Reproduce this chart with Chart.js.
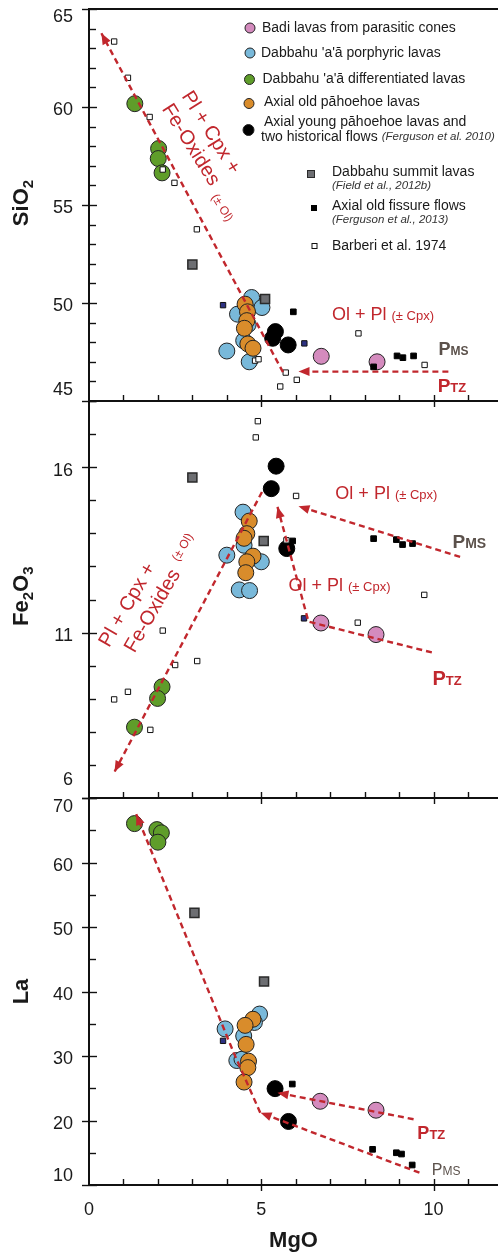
<!DOCTYPE html>
<html>
<head>
<meta charset="utf-8">
<script src="https://cdn.jsdelivr.net/npm/chart.js@4.4.1/dist/chart.umd.min.js"></script>
<style>
  html, body { margin: 0; padding: 0; background: #fff; }
  #box { width: 498px; height: 1252px; position: relative; }
</style>
</head>
<body>
<div id="box"><canvas id="geo" width="498" height="1252"></canvas></div>
<script>
Chart.defaults.font.family = '"Liberation Sans", Arial, Helvetica, sans-serif';

const RED = '#c1272d';
const PMS = '#5b514b';
const INK = '#1a1a1a';

// tick labels
const mgoTicks = [0, 5, 10];
const sio2Ticks = [45, 50, 55, 60, 65];
const fe2o3Ticks = [6, 11, 16];
const laTicks = [10, 20, 30, 40, 50, 60, 70];

// [MgO, value]
const badiSiO2 = [[6.74, 47.28], [8.36, 47.0]];
const badiFe2O3 = [[6.73, 11.29], [8.33, 10.94]];
const badiLa = [[6.71, 22.98], [8.33, 21.6]];

const porphSiO2 = [[4.72, 50.28], [5.02, 49.77], [4.31, 49.43], [4.62, 48.9], [4.49, 48.08], [4.0, 47.55], [4.65, 47.0]];
const porphFe2O3 = [[4.47, 14.64], [4.5, 13.64], [4.0, 13.34], [5.0, 13.14], [4.36, 12.29], [4.66, 12.27]];
const porphLa = [[3.95, 34.2], [4.95, 36.5], [4.8, 35.2], [4.49, 33.1], [4.29, 29.3], [4.44, 29.5]];

const diffSiO2 = [[1.33, 60.17], [2.02, 57.88], [2.01, 57.37], [2.12, 56.64]];
const diffFe2O3 = [[2.12, 9.36], [1.99, 9.01], [1.32, 8.14]];
const diffLa = [[1.32, 66.03], [1.97, 65.1], [2.1, 64.6], [2.0, 63.15]];

const oldPahSiO2 = [[4.53, 49.94], [4.6, 49.55], [4.58, 49.1], [4.51, 48.71], [4.61, 47.91], [4.76, 47.69]];
const oldPahFe2O3 = [[4.65, 14.37], [4.58, 13.99], [4.5, 13.85], [4.76, 13.31], [4.58, 13.14], [4.55, 12.81]];
const oldPahLa = [[4.76, 35.7], [4.53, 34.75], [4.56, 31.8], [4.63, 29.2], [4.61, 28.2], [4.5, 25.96]];

const youngSiO2 = [[5.41, 48.54], [5.33, 48.2], [5.78, 47.86]];
const youngFe2O3 = [[5.43, 16.03], [5.29, 15.35], [5.74, 13.54]];
const youngLa = [[5.4, 24.94], [5.79, 19.85]];

const summitSiO2 = [[3.0, 51.96], [5.11, 50.2]];
const summitFe2O3 = [[3.0, 15.69], [5.07, 13.77]];
const summitLa = [[3.06, 52.19], [5.08, 41.55]];

const fissureSiO2 = [[5.93, 49.55], [8.94, 47.3], [9.11, 47.21], [9.42, 47.3], [8.26, 46.74]];
const fissureFe2O3 = [[5.91, 13.77], [8.26, 13.84], [8.92, 13.81], [9.1, 13.66], [9.39, 13.69]];
const fissureLa = [[5.9, 25.65], [8.23, 15.53], [8.92, 15.0], [9.07, 14.8], [9.38, 13.1]];

const barberiSiO2 = [[0.73, 63.34], [1.13, 61.49], [1.76, 59.49], [2.14, 56.81], [2.48, 56.13], [3.13, 53.76],
  [4.82, 47.06], [4.92, 47.13], [5.71, 46.45], [6.03, 46.08], [5.55, 45.74], [7.82, 48.45], [9.74, 46.84]];
const barberiFe2O3 = [[4.9, 17.39], [4.84, 16.9], [6.01, 15.13], [9.73, 12.14], [2.14, 11.06], [2.5, 10.02],
  [3.14, 10.14], [1.13, 9.21], [0.73, 8.98], [1.78, 8.06], [7.8, 11.3], [5.73, 13.79]];

const otherSiO2 = [[3.89, 49.89], [6.25, 47.94]];
const otherFe2O3 = [[6.24, 11.43]];
const otherLa = [[3.89, 32.35]];

// fractionation trends (last point gets the arrow head)
const siTrendFract = [[5.63, 46.47], [0.36, 63.76]];
const siTrendOlPl = [[10.43, 46.5], [6.08, 46.5]];
const feTrendFract = [[5.02, 15.25], [0.74, 6.79]];
const feTrendMS = [[10.77, 13.29], [6.08, 14.82]];
const feTrendTZ = [[9.95, 10.4], [6.37, 11.33], [5.47, 14.8]];
const laTrendFract = [[4.97, 21.2], [4.2, 30.5], [1.37, 67.5]];
const laTrendMS = [[9.59, 11.9], [4.98, 21.2]];
const laTrendTZ = [[9.42, 20.2], [5.47, 24.3]];

const panels = [
  { id: 'ySi', key: 'si', min: 45, max: 65, ticks: sio2Ticks, minor: 1, h: 392, w: 3, shiftTop: 8, shiftBottom: -11, titleAt: 55.1,
    title: [{ t: 'SiO', size: 22, bold: true }, { t: '2', size: 15, bold: true, dy: 5 }] },
  { id: 'yFe', key: 'fe', min: 6, max: 18, ticks: fe2o3Ticks, minor: 1, h: 397, w: 2, shiftTop: 0, shiftBottom: -18, titleAt: 12.1,
    title: [{ t: 'Fe', size: 22, bold: true }, { t: '2', size: 15, bold: true, dy: 5 }, { t: 'O', size: 22, bold: true }, { t: '3', size: 15, bold: true, dy: 5 }] },
  { id: 'yLa', key: 'la', min: 10, max: 70, ticks: laTicks, minor: 5, h: 387, w: 1, shiftTop: 9, shiftBottom: -9, titleAt: 40,
    title: [{ t: 'La', size: 22, bold: true }] }
];

const groups = [
  { pts: { si: badiSiO2, fe: badiFe2O3, la: badiLa }, style: 'circle', r: 8, fill: '#d48bbe', line: '#222', bw: 1, order: 9 },
  { pts: { si: porphSiO2, fe: porphFe2O3, la: porphLa }, style: 'circle', r: 8, fill: '#79b9da', line: '#222', bw: 1, order: 8 },
  { pts: { si: diffSiO2, fe: diffFe2O3, la: diffLa }, style: 'circle', r: 8, fill: '#5f9d2a', line: '#222', bw: 1, order: 7 },
  { pts: { si: oldPahSiO2, fe: oldPahFe2O3, la: oldPahLa }, style: 'circle', r: 8, fill: '#d98c2b', line: '#222', bw: 1, order: 6 },
  { pts: { si: youngSiO2, fe: youngFe2O3, la: youngLa }, style: 'circle', r: 8, fill: '#000', line: '#000', bw: 1, order: 5 },
  { pts: { si: summitSiO2, fe: summitFe2O3, la: summitLa }, style: 'rect', r: 6.4, fill: '#6d6e72', line: '#2a2a2a', bw: 1.5, order: 4 },
  { pts: { si: fissureSiO2, fe: fissureFe2O3, la: fissureLa }, style: 'rect', r: 4, fill: '#000', line: '#000', bw: 1, order: 3 },
  { pts: { si: otherSiO2, fe: otherFe2O3, la: otherLa }, style: 'rect', r: 3.8, fill: '#2d3182', line: '#111', bw: 1, order: 2 },
  { pts: { si: barberiSiO2, fe: barberiFe2O3 }, style: 'rect', r: 3.8, fill: '#fff', line: '#111', bw: 1, order: 1 }
];

const trends = [
  { axis: 'ySi', pts: siTrendFract }, { axis: 'ySi', pts: siTrendOlPl },
  { axis: 'yFe', pts: feTrendFract }, { axis: 'yFe', pts: feTrendMS }, { axis: 'yFe', pts: feTrendTZ },
  { axis: 'yLa', pts: laTrendFract }, { axis: 'yLa', pts: laTrendMS }, { axis: 'yLa', pts: laTrendTZ }
];

const olPl = [{ t: 'Ol + Pl ', size: 18 }, { t: '(± Cpx)', size: 13 }];
const notes = [
  { axis: 'ySi', x: 3.57, y: 58.74, rot: 58, align: 'center', parts: [{ t: 'Pl + Cpx +', size: 20 }] },
  { axis: 'ySi', x: 2.99, y: 58.11, rot: 58, align: 'center', parts: [{ t: 'Fe-Oxides', size: 20 }] },
  { axis: 'ySi', x: 3.88, y: 54.88, rot: 58, align: 'center', parts: [{ t: '(± Ol)', size: 12 }] },
  { axis: 'ySi', x: 7.05, y: 49.47, parts: olPl },
  { axis: 'ySi', x: 10.14, y: 47.7, color: PMS, parts: [{ t: 'P', size: 18, bold: true }, { t: 'MS', size: 12, bold: true }] },
  { axis: 'ySi', x: 10.12, y: 45.82, parts: [{ t: 'P', size: 19, bold: true }, { t: 'TZ', size: 13, bold: true }] },
  { axis: 'yFe', x: 1.08, y: 11.86, rot: -60, align: 'center', parts: [{ t: 'Pl + Cpx +', size: 20 }] },
  { axis: 'yFe', x: 1.81, y: 11.68, rot: -60, align: 'center', parts: [{ t: 'Fe-Oxides', size: 20 }] },
  { axis: 'yFe', x: 2.7, y: 13.59, rot: -60, align: 'center', parts: [{ t: '(± Ol)', size: 12 }] },
  { axis: 'yFe', x: 7.15, y: 15.23, parts: olPl },
  { axis: 'yFe', x: 5.79, y: 12.44, parts: olPl },
  { axis: 'yFe', x: 10.55, y: 13.75, color: PMS, parts: [{ t: 'P', size: 19, bold: true }, { t: 'MS', size: 14, bold: true }] },
  { axis: 'yFe', x: 9.97, y: 9.63, parts: [{ t: 'P', size: 20, bold: true }, { t: 'TZ', size: 13, bold: true }] },
  { axis: 'yLa', x: 9.53, y: 18.15, parts: [{ t: 'P', size: 18, bold: true }, { t: 'TZ', size: 13, bold: true }] },
  { axis: 'yLa', x: 9.95, y: 12.48, color: PMS, parts: [{ t: 'P', size: 16 }, { t: 'MS', size: 12 }] }
];

// legend rows; a text x of null continues right after the previous text
const legendRows = [
  { mark: 'circle', fill: '#d48bbe', mx: 250, my: 28, r: 5, text: [[262, 28, 'Badi lavas from parasitic cones']] },
  { mark: 'circle', fill: '#79b9da', mx: 250, my: 53, r: 5, text: [[261, 53, "Dabbahu 'a'ā porphyric lavas"]] },
  { mark: 'circle', fill: '#5f9d2a', mx: 249.5, my: 79.5, r: 5, text: [[262.5, 79, "Dabbahu 'a'ā differentiated lavas"]] },
  { mark: 'circle', fill: '#d98c2b', mx: 249, my: 103.5, r: 5, text: [[264, 102, 'Axial old pāhoehoe lavas']] },
  { mark: 'circle', fill: '#000', mx: 248.5, my: 130, r: 5.5, text: [[264, 122.5, 'Axial young pāhoehoe lavas and'], [261, 137, 'two historical flows'], [null, 137, '(Ferguson et al. 2010)', true]] },
  { mark: 'rect', fill: '#6d6e72', line: '#2a2a2a', mx: 311, my: 174, r: 4, text: [[332, 172, 'Dabbahu summit lavas'], [332, 185.5, '(Field et al., 2012b)', true]] },
  { mark: 'rect', fill: '#000', line: '#000', mx: 314, my: 208, r: 3, text: [[332, 206, 'Axial old fissure flows'], [332, 220, '(Ferguson et al., 2013)', true]] },
  { mark: 'rect', fill: '#fff', line: '#111', mx: 314.5, my: 246, r: 3, text: [[332, 246, 'Barberi et al. 1974']] }
];

function fontOf(p) {
  return (p.italic ? 'italic ' : '') + (p.bold ? 'bold ' : '') + p.size + 'px "Liberation Sans", Arial, sans-serif';
}

function drawParts(ctx, x, y, parts, opt) {
  ctx.save();
  ctx.translate(x, y);
  if (opt.rot) ctx.rotate(opt.rot * Math.PI / 180);
  let w = 0;
  const widths = parts.map(p => { ctx.font = fontOf(p); const m = ctx.measureText(p.t).width; w += m; return m; });
  let cx = opt.align === 'center' ? -w / 2 : 0;
  const base = 0.36 * parts[0].size;
  ctx.textAlign = 'left';
  ctx.textBaseline = 'alphabetic';
  parts.forEach((p, i) => {
    ctx.font = fontOf(p);
    ctx.fillStyle = opt.color;
    ctx.fillText(p.t, cx, base + (p.dy || 0));
    cx += widths[i];
  });
  ctx.restore();
}

const datasets = [];
groups.forEach(g => panels.forEach(p => {
  const d = g.pts[p.key];
  if (!d) return;
  datasets.push({
    data: d.map(([x, y]) => ({ x, y })),
    yAxisID: p.id,
    pointStyle: g.style,
    pointRadius: g.r,
    backgroundColor: g.fill,
    borderColor: g.line,
    borderWidth: g.bw,
    order: g.order
  });
}));
trends.forEach(t => datasets.push({
  data: t.pts.map(([x, y]) => ({ x, y })),
  yAxisID: t.axis,
  showLine: true,
  tension: 0,
  borderColor: RED,
  borderWidth: 2.4,
  borderDash: [6, 4],
  pointRadius: 0,
  order: 0,
  arrow: true
}));

const scales = {
  x: {
    type: 'linear', position: 'bottom', min: 0, max: 11.87,
    afterBuildTicks: s => { s.ticks = mgoTicks.map(v => ({ value: v })); },
    afterFit: s => { s.height = 67; s.paddingLeft = 0; s.paddingRight = 0; },
    grid: { drawOnChartArea: false, drawTicks: false },
    border: { color: '#111', width: 2 },
    ticks: { font: { size: 18 }, color: INK, padding: 14, maxRotation: 0 },
    title: { display: true, text: 'MgO', color: INK, font: { size: 22, weight: 'bold', lineHeight: 1 }, padding: 0 }
  }
};
panels.forEach(p => {
  scales[p.id] = {
    type: 'linear', position: 'left', stack: 'mgo', stackWeight: p.h, weight: p.w,
    min: p.min, max: p.max,
    afterFit: s => { s.width = 89; s.paddingTop = 0; s.paddingBottom = 0; },
    grid: { drawOnChartArea: false, drawTicks: false },
    border: { color: '#111', width: 2 },
    ticks: { display: false }
  };
});

const decor = {
  id: 'decor',
  afterDatasetsDraw(chart) {
    const ctx = chart.ctx;
    chart.data.datasets.forEach((ds, i) => {
      if (!ds.arrow) return;
      const pts = chart.getDatasetMeta(i).data;
      const a = pts[pts.length - 1], b = pts[pts.length - 2];
      const ang = Math.atan2(a.y - b.y, a.x - b.x);
      ctx.save();
      ctx.translate(a.x, a.y);
      ctx.rotate(ang);
      ctx.fillStyle = RED;
      ctx.beginPath();
      ctx.moveTo(0, 0);
      ctx.lineTo(-11, -4.5);
      ctx.lineTo(-11, 4.5);
      ctx.closePath();
      ctx.fill();
      ctx.restore();
    });
  },
  afterDraw(chart) {
    const ctx = chart.ctx;
    const xs = chart.scales.x;
    const area = chart.chartArea;
    ctx.save();
    const seg = (x1, y1, x2, y2) => { ctx.beginPath(); ctx.moveTo(x1, y1); ctx.lineTo(x2, y2); ctx.stroke(); };

    panels.forEach(p => {
      const s = chart.scales[p.id];
      const top = s.getPixelForValue(p.max);
      const bot = s.getPixelForValue(p.min);
      // frame lines
      ctx.strokeStyle = '#111';
      ctx.lineWidth = 2;
      if (p.id === 'ySi') seg(area.left - 1, top, area.right, top);
      seg(area.left - 1, bot, area.right, bot);
      // x ticks along the panel bottom
      ctx.lineWidth = 1.4;
      for (let v = 1; v <= 11; v++) {
        const px = Math.round(xs.getPixelForValue(v)) + 0.5;
        seg(px, bot - 6, px, v % 5 === 0 ? bot + 6 : bot);
      }
      // y ticks
      for (let v = p.min; v <= p.max; v += p.minor) {
        const py = Math.round(s.getPixelForValue(v)) + 0.5;
        if (p.ticks.includes(v)) seg(area.left - 7, py, area.left + 8, py);
        else seg(area.left, py, area.left + 7, py);
      }
      // y tick labels
      ctx.fillStyle = INK;
      ctx.font = '18px "Liberation Sans", Arial, sans-serif';
      ctx.textAlign = 'right';
      ctx.textBaseline = 'middle';
      p.ticks.forEach(v => {
        let dy = 3.5;
        if (v === p.max) dy = p.shiftTop;
        if (v === p.min) dy = p.shiftBottom;
        ctx.fillText(String(v), 73, s.getPixelForValue(v) + dy);
      });
      // axis title
      drawParts(ctx, 20, s.getPixelForValue(p.titleAt), p.title, { rot: -90, align: 'center', color: INK });
    });

    notes.forEach(n => {
      drawParts(ctx, xs.getPixelForValue(n.x), chart.scales[n.axis].getPixelForValue(n.y), n.parts,
        { rot: n.rot || 0, align: n.align || 'left', color: n.color || RED });
    });

    // legend
    legendRows.forEach(row => {
      ctx.lineWidth = 1;
      ctx.fillStyle = row.fill;
      ctx.strokeStyle = row.line || '#222';
      if (row.mark === 'circle') {
        ctx.beginPath();
        ctx.arc(row.mx, row.my, row.r, 0, Math.PI * 2);
        ctx.fill();
        ctx.stroke();
      } else {
        ctx.fillRect(row.mx - row.r, row.my - row.r, row.r * 2, row.r * 2);
        ctx.strokeRect(row.mx - row.r + 0.5, row.my - row.r + 0.5, row.r * 2 - 1, row.r * 2 - 1);
      }
      ctx.textAlign = 'left';
      ctx.textBaseline = 'middle';
      let endX = 0;
      row.text.forEach(([tx, ty, t, it]) => {
        ctx.font = it ? 'italic 11.5px "Liberation Sans", Arial, sans-serif' : '14px "Liberation Sans", Arial, sans-serif';
        ctx.fillStyle = it ? '#333' : INK;
        const x0 = tx === null ? endX + 4 : tx;
        ctx.fillText(t, x0, ty);
        endX = x0 + ctx.measureText(t).width;
      });
    });
    ctx.restore();
  }
};

new Chart(document.getElementById('geo'), {
  type: 'scatter',
  data: { datasets },
  options: {
    responsive: false,
    animation: false,
    events: [],
    layout: { autoPadding: false, padding: { top: 9, left: 0, right: 0, bottom: 0 } },
    plugins: { legend: { display: false }, tooltip: { enabled: false } },
    scales
  },
  plugins: [decor]
});
</script>
</body>
</html>
